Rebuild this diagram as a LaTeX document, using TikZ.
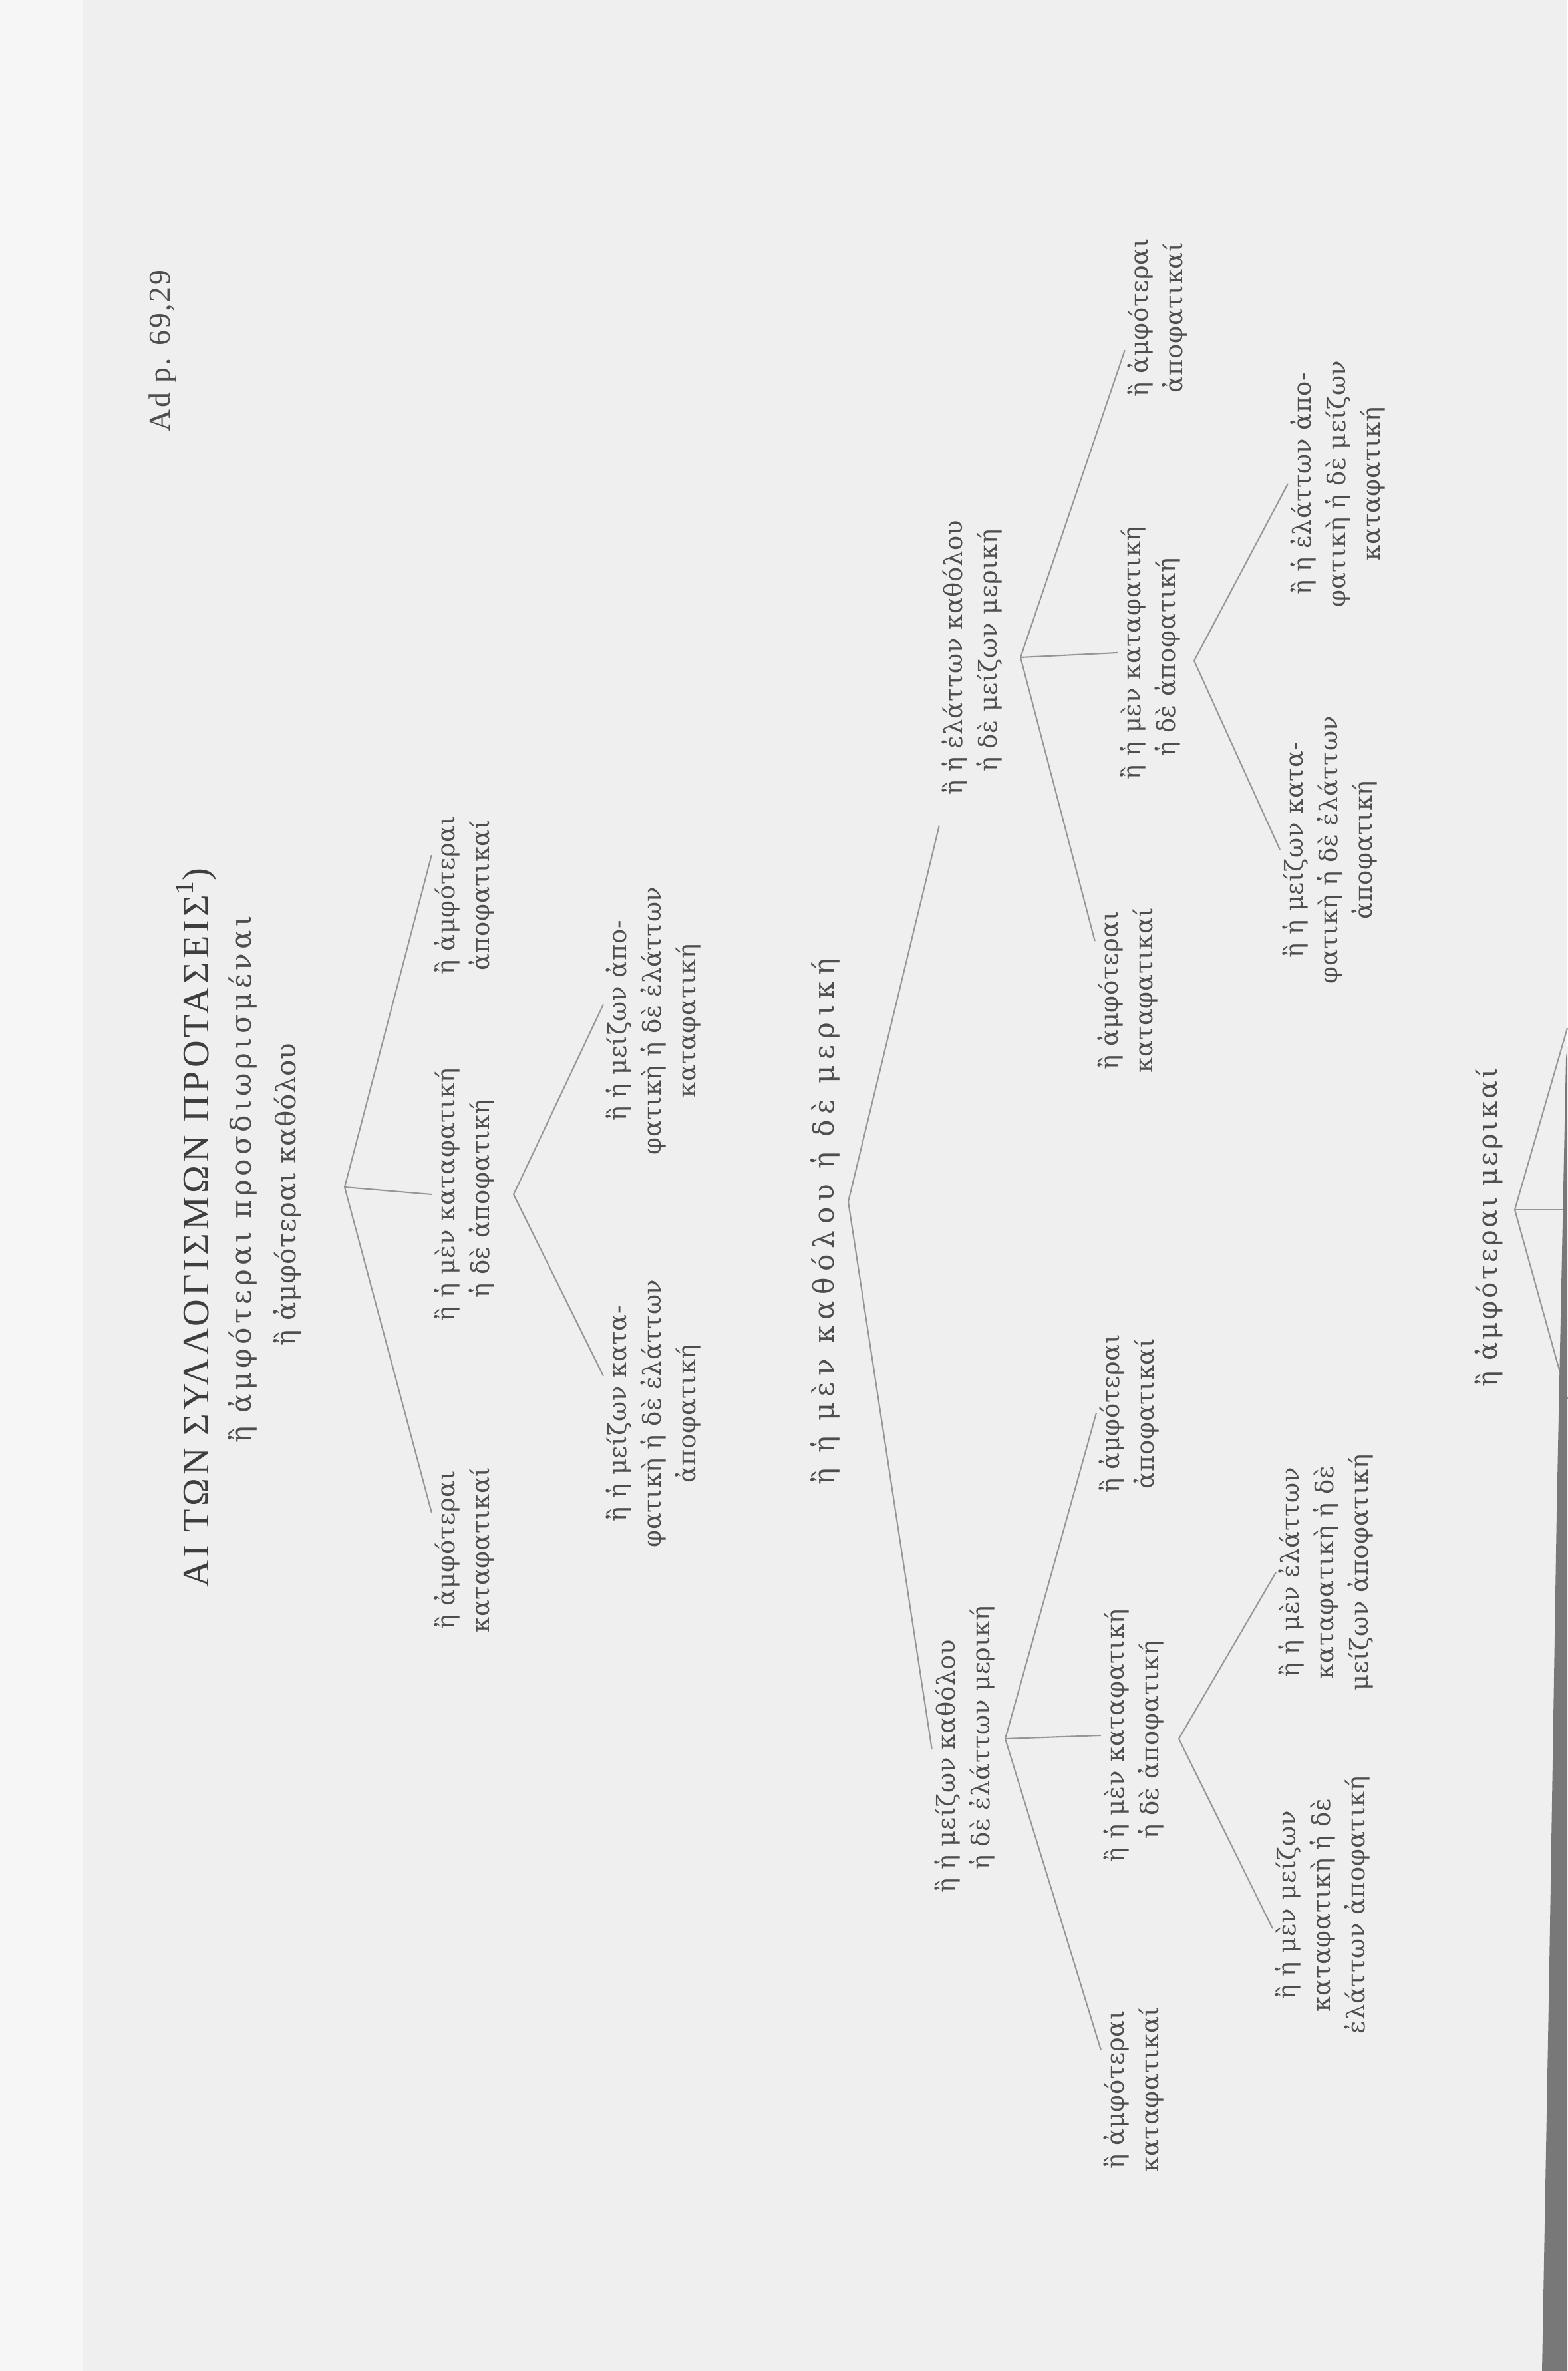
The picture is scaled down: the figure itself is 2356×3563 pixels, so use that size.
\documentclass[tikz,border=0pt]{standalone}
\usepackage{fontspec}
\setmainfont{DejaVu Serif}
\newfontfamily\grk{DejaVu Serif}[LetterSpace=2]
\newfontfamily\grkmid{DejaVu Serif}[LetterSpace=9]
\newfontfamily\grkwide{DejaVu Serif}[LetterSpace=14]
\newfontfamily\grkroot{DejaVu Serif}[LetterSpace=22]
\newfontfamily\capsrm{Liberation Serif}[LetterSpace=6]
\newfontfamily\titlerm{Liberation Serif}[LetterSpace=9]
\usetikzlibrary{positioning}
\definecolor{ink}{RGB}{78,78,78}
\definecolor{wire}{RGB}{150,150,150}
\definecolor{paper}{RGB}{239,239,239}
\definecolor{margin}{RGB}{246,246,246}
\definecolor{spine}{RGB}{120,120,120}
\newcommand{\etaskip}{\hphantom{ἢ }}

\begin{document}
\begin{tikzpicture}[x=0.01cm,y=0.01cm,
 leaf/.style={font=\grk\fontsize{10.5}{14.7}\selectfont,text=ink,align=center,inner sep=1pt},
 pair/.style={leaf,align=left},
 head/.style={font=\grkwide\fontsize{11.5}{14.7}\selectfont,text=ink,inner sep=1pt},
 link/.style={draw=wire,line width=.6pt}]
\fill[paper] (0,0) rectangle (2356,3563);
\fill[margin] (0,0) rectangle (125,3563);
\useasboundingbox (0,0) rectangle (2356,3563);
\begin{scope}[rotate=90,transform shape]
% heading
\node[font=\capsrm\fontsize{13}{15}\selectfont,text=ink] (adp) at (3036,-245) {Ad p. 69,29};
\node[font=\titlerm\fontsize{16}{18}\selectfont,text=ink!80!black] (title) at (1718,-295) {ΑΙ ΤΩΝ ΣΥΛΛΟΓΙΣΜΩΝ ΠΡΟΤΑΣΕΙΣ\textsuperscript{1})};
\node[head,font=\grkwide\fontsize{12}{15}\selectfont] (sub) at (1791,-364) {ἢ ἀμφότεραι προσδιωρισμέναι};
\node[leaf,font=\grk\fontsize{11.5}{15}\selectfont] (kath) at (1768,-432) {ἢ ἀμφότεραι καθόλου};
% first tree
\coordinate (j1) at (1779,-518);
\node[leaf] (k1) at (1234,-698) {ἢ ἀμφότεραι\\καταφατικαί};
\node[pair] (k2) at (1768,-698) {ἢ ἡ μὲν καταφατική\\\etaskip ἡ δὲ ἀποφατική};
\node[leaf] (k3) at (2218,-698) {ἢ ἀμφότεραι\\ἀποφατικαί};
\draw[link] (j1) -- ([xshift=16pt]k1.north);
\draw[link] (j1) -- (k2.north);
\draw[link] (j1) -- ([xshift=17pt]k3.north);
\coordinate (j1b) at (1768,-772);
\node[leaf] (k21) at (1439,-982) {ἢ ἡ μείζων κατα-\\φατικὴ ἡ δὲ ἐλάττων\\ἀποφατική};
\node[leaf] (k22) at (2029,-982) {ἢ ἡ μείζων ἀπο-\\φατικὴ ἡ δὲ ἐλάττων\\καταφατική};
\draw[link] (j1b) -- ([xshift=16pt]k21.north);
\draw[link] (j1b) -- ([xshift=7pt]k22.north);
% second tree
\node[head,font=\grkroot\fontsize{12}{15}\selectfont] (r2) at (1727,-1240) {ἢ ἡ μὲν καθόλου ἡ δὲ μερική};
\coordinate (j2) at (1757,-1275);
\node[pair] (na) at (934,-1450) {ἢ ἡ μείζων καθόλου\\\etaskip ἡ δὲ ἐλάττων μερική};
\node[pair] (nb) at (2575,-1461) {ἢ ἡ ἐλάττων καθόλου\\\etaskip ἡ δὲ μείζων μερική};
\draw[link] (j2) -- (na.north);
\draw[link] (j2) -- ([xshift=-12pt]nb.north west);
\coordinate (ja) at (950,-1511);
\node[leaf] (a1) at (1439,-1697) {ἢ ἀμφότεραι\\ἀποφατικαί};
\node[pair] (a2) at (955,-1704) {ἢ ἡ μὲν καταφατική\\\etaskip ἡ δὲ ἀποφατική};
\node[leaf] (a3) at (423,-1704) {ἢ ἀμφότεραι\\καταφατικαί};
\draw[link] (ja) -- (a1.north);
\draw[link] (ja) -- (a2.north);
\draw[link] (ja) -- ([xshift=17pt]a3.north);
\coordinate (jaa) at (950,-1772);
\node[leaf] (a21) at (1200,-1993) {ἢ ἡ μὲν ἐλάττων\\καταφατικὴ ἡ δὲ\\μείζων ἀποφατική};
\node[leaf] (a22) at (700,-1988) {ἢ ἡ μὲν μείζων\\καταφατικὴ ἡ δὲ\\ἐλάττων ἀποφατική};
\draw[link] (jaa) -- (a21.north);
\draw[link] (jaa) -- ([xshift=-10pt]a22.north);
\coordinate (jb) at (2575,-1534);
\node[leaf] (b1) at (2075,-1695) {ἢ ἀμφότεραι\\καταφατικαί};
\node[pair] (b2) at (2582,-1729) {ἢ ἡ μὲν καταφατική\\\etaskip ἡ δὲ ἀποφατική};
\node[leaf] (b3) at (3086,-1740) {ἢ ἀμφότεραι\\ἀποφατικαί};
\draw[link] (jb) -- ([xshift=21pt]b1.north);
\draw[link] (jb) -- (b2.north);
\draw[link] (jb) -- ([xshift=-14pt]b3.north);
\coordinate (jba) at (2570,-1795);
\node[leaf] (b21) at (2286,-1999) {ἢ ἡ μείζων κατα-\\φατικὴ ἡ δὲ ἐλάττων\\ἀποφατική};
\node[leaf] (b22) at (2836,-2011) {ἢ ἡ ἐλάττων ἀπο-\\φατικὴ ἡ δὲ μείζων\\καταφατική};
\draw[link] (jba) -- (b21.north);
\draw[link] (jba) -- (b22.north);
% third tree, runs off the page
\node[leaf,font=\grkmid\fontsize{11.5}{15}\selectfont] (r3) at (1718,-2238) {ἢ ἀμφότεραι μερικαί};
\coordinate (j3) at (1745,-2277);
\coordinate (e3a) at (2018,-2356);
\coordinate (e3b) at (1745,-2356);
\coordinate (e3c) at (1461,-2356);
\draw[link] (j3) -- (e3a);\draw[link] (j3) -- (e3b);\draw[link] (j3) -- (e3c);
\end{scope}
\fill[spine] (2356,1990) -- (2354,1973) -- (2340,1291) -- (2329,609) -- (2318,0) -- (2356,0) -- cycle;
\end{tikzpicture}
\end{document}
